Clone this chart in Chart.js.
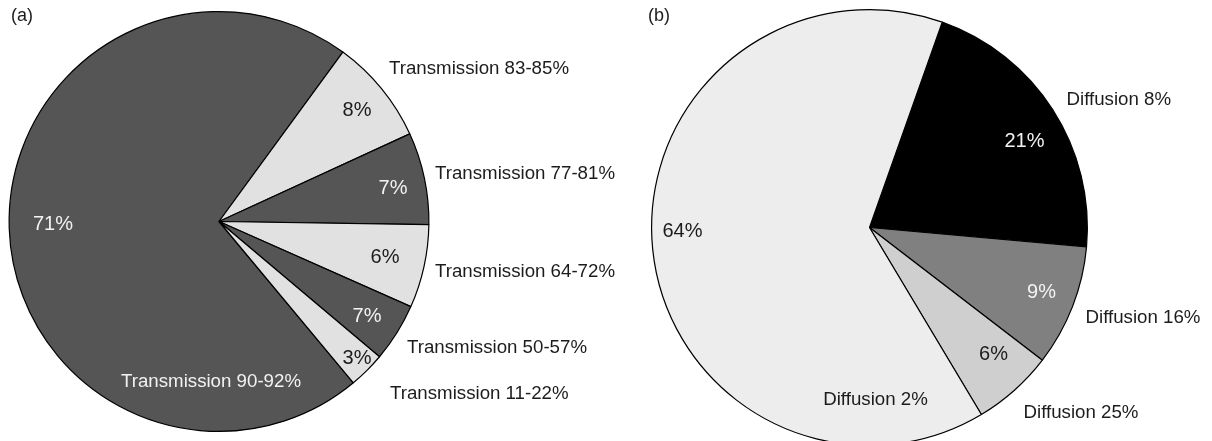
<!DOCTYPE html>
<html>
<head>
<meta charset="utf-8">
<script src="https://cdn.jsdelivr.net/npm/chart.js@4/dist/chart.umd.min.js"></script>
<style>
  html, body { margin: 0; padding: 0; background: #fff; overflow: hidden; }
  body { width: 1212px; height: 441px; position: relative; }
  .panel { position: absolute; top: 0; }
  #boxA { left: 0; width: 640px; height: 441px; }
  #boxB { left: 600px; width: 612px; height: 460px; }
</style>
</head>
<body>
<div class="panel" id="boxA"><canvas id="chartA"></canvas></div>
<div class="panel" id="boxB"><canvas id="chartB"></canvas></div>
<script>
// (a) transmission classes - slice sizes, printed labels as shown
const transCategories = ['Transmission 90-92%', 'Transmission 83-85%', 'Transmission 77-81%',
  'Transmission 64-72%', 'Transmission 50-57%', 'Transmission 11-22%'];
const transValues = [71.1, 8.1, 7.1, 6.4, 4.5, 2.8];
const transPercentLabels = ['71%', '8%', '7%', '6%', '7%', '3%'];

// (b) diffusion classes
const diffCategories = ['Diffusion 8%', 'Diffusion 16%', 'Diffusion 25%', 'Diffusion 2%'];
const diffValues = [21, 9, 6, 64];
const diffPercentLabels = ['21%', '9%', '6%', '64%'];

const FONT = '"Liberation Sans", Arial, sans-serif';
const DARK_TEXT = '#1c1c1c';
const LIGHT_TEXT = '#f2f2f2';

// label placement, offsets from pie centre (px)
const transLabelStyle = {
  pct: [[-166, 3], [138, -111], [174, -33], [166, 36], [148, 95], [138, 137]],
  pctColor: [LIGHT_TEXT, DARK_TEXT, LIGHT_TEXT, DARK_TEXT, LIGHT_TEXT, DARK_TEXT],
  cat: [[-8, 160, 'center'], [170, -153, 'left'], [216, -48, 'left'], [216, 50, 'left'], [188, 126, 'left'], [171, 172, 'left']],
  catColor: [LIGHT_TEXT, DARK_TEXT, DARK_TEXT, DARK_TEXT, DARK_TEXT, DARK_TEXT]
};
const diffLabelStyle = {
  pct: [[155, -86], [172, 65], [124, 127], [-187, 4]],
  pctColor: [LIGHT_TEXT, LIGHT_TEXT, DARK_TEXT, DARK_TEXT],
  cat: [[197, -128, 'left'], [216, 90, 'left'], [154, 185, 'left'], [6, 172, 'center']],
  catColor: [DARK_TEXT, DARK_TEXT, DARK_TEXT, DARK_TEXT]
};

// draws the percentage and category text for each slice
function sliceLabels(pctLabels, categories, style) {
  return {
    id: 'sliceLabels',
    afterDatasetsDraw(chart) {
      const ctx = chart.ctx;
      const arcs = chart.getDatasetMeta(0).data;
      ctx.save();
      ctx.textBaseline = 'middle';
      arcs.forEach((arc, i) => {
        const cx = arc.x, cy = arc.y;
        ctx.font = '20px ' + FONT;
        ctx.textAlign = 'center';
        ctx.fillStyle = style.pctColor[i];
        ctx.fillText(pctLabels[i], cx + style.pct[i][0], cy + style.pct[i][1]);

        ctx.font = '18.7px ' + FONT;
        ctx.textAlign = style.cat[i][2];
        ctx.fillStyle = style.catColor[i];
        ctx.fillText(categories[i], cx + style.cat[i][0], cy + style.cat[i][1]);
      });
      ctx.restore();
    }
  };
}

// panel letter in the top left corner
function panelTag(text, x, y) {
  return {
    id: 'panelTag',
    afterDraw(chart) {
      const ctx = chart.ctx;
      ctx.save();
      ctx.font = '18px ' + FONT;
      ctx.fillStyle = DARK_TEXT;
      ctx.textAlign = 'left';
      ctx.textBaseline = 'middle';
      ctx.fillText(text, x, y);
      ctx.restore();
    }
  };
}

function makePie(canvasId, categories, values, colors, rotation, padding, plugins) {
  return new Chart(document.getElementById(canvasId), {
    type: 'pie',
    data: {
      labels: categories,
      datasets: [{
        data: values,
        backgroundColor: colors,
        borderColor: '#000',
        borderWidth: 1.2
      }]
    },
    options: {
      responsive: true,
      maintainAspectRatio: false,
      animation: false,
      rotation: rotation,
      layout: { padding: padding },
      plugins: {
        legend: { display: false },
        tooltip: { enabled: false }
      }
    },
    plugins: plugins
  });
}

makePie('chartA', transCategories, transValues,
  ['#555555', '#e1e1e1', '#555555', '#e1e1e1', '#555555', '#e1e1e1'],
  140.2,
  { left: 8, top: 11, right: 210, bottom: 9 },
  [sliceLabels(transPercentLabels, transCategories, transLabelStyle), panelTag('(a)', 11, 16)]);

makePie('chartB', diffCategories, diffValues,
  ['#000000', '#808080', '#cfcfcf', '#ededed'],
  19.5,
  { left: 51, top: 9, right: 124, bottom: 14 },
  [sliceLabels(diffPercentLabels, diffCategories, diffLabelStyle), panelTag('(b)', 48, 16)]);
</script>
</body>
</html>
